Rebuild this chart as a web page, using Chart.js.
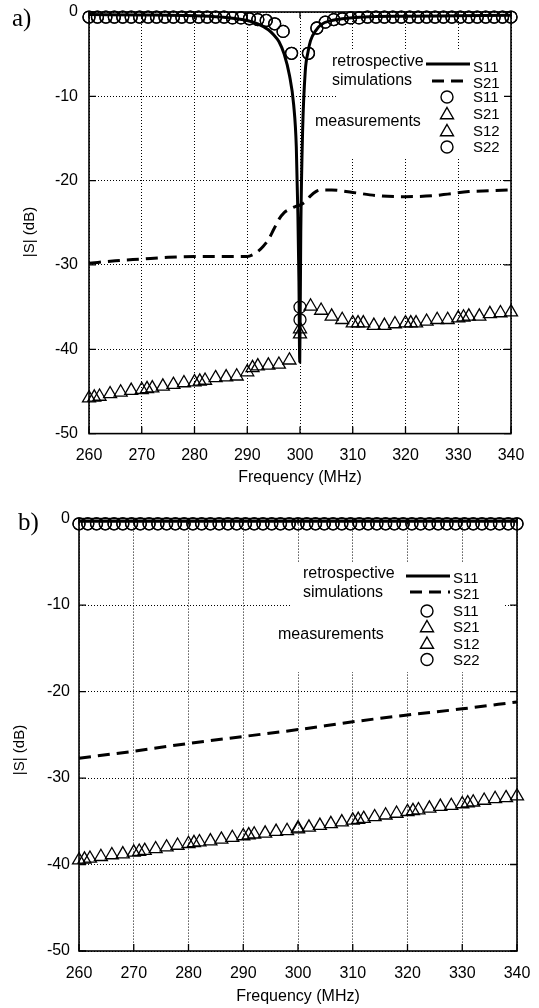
<!DOCTYPE html>
<html><head><meta charset="utf-8">
<script src="https://cdn.jsdelivr.net/npm/chart.js@4.4.1/dist/chart.umd.min.js"></script>
<style>
html,body{margin:0;padding:0;background:#fff;width:539px;height:1008px;overflow:hidden;}
.wrap{position:absolute;left:0;width:539px;}
#w1{top:0;height:500px;} #w2{top:500px;height:508px;}
canvas{display:block;}
</style></head><body>
<div class="wrap" id="w1"><canvas id="c1" width="539" height="500"></canvas></div>
<div class="wrap" id="w2"><canvas id="c2" width="539" height="508"></canvas></div>
<script>
// ---------- shared tick labels ----------
const xTickValues = [260, 270, 280, 290, 300, 310, 320, 330, 340];
const yTickValues = [0, -10, -20, -30, -40, -50];

// ---------- measurement frequency grids ----------
const measFreqCircles = [260, 261.6, 263.2, 264.8, 266.4, 268, 269.6, 271.2, 272.8, 274.4, 276, 277.6, 279.2, 280.8, 282.4, 284, 285.6, 287.2, 288.8, 290.4, 292, 293.6, 295.2, 296.8, 298.4, 300, 301.6, 303.2, 304.8, 306.4, 308, 309.6, 311.2, 312.8, 314.4, 316, 317.6, 319.2, 320.8, 322.4, 324, 325.6, 327.2, 328.8, 330.4, 332, 333.6, 335.2, 336.8, 338.4, 340];
const measFreqS21 = [260, 262, 264, 266, 268, 270, 272, 274, 276, 278, 280, 282, 284, 286, 288, 290, 292, 294, 296, 298, 300, 302, 304, 306, 308, 310, 312, 314, 316, 318, 320, 322, 324, 326, 328, 330, 332, 334, 336, 338, 340];
const measFreqS12 = [261, 271, 281, 291, 300, 311, 321, 331];

// ---------- chart a) ----------
const simFreqS11a = [260, 270, 280, 285, 288, 290, 292, 294, 295, 296, 297, 298, 298.8, 299.3, 299.6, 299.8, 299.95, 300.15, 300.5, 301, 301.5, 302, 303, 304, 306, 308, 312, 320, 330, 340];
const simS11a = [-0.3, -0.35, -0.45, -0.6, -0.8, -1.0, -1.4, -2.1, -2.7, -3.5, -5.0, -7.5, -11, -16, -24, -32, -41.5, -26, -14, -7, -4.8, -3.4, -2.2, -1.5, -1.0, -0.8, -0.6, -0.5, -0.45, -0.4];
const simFreqS21a = [260, 265, 270, 275, 280, 285, 290, 291, 292, 293, 294, 295, 296, 297, 298, 299, 300, 301, 302, 303, 304, 306, 310, 315, 320, 325, 328, 332, 336, 340];
const simS21a = [-29.8, -29.5, -29.3, -29.1, -29.0, -29.0, -29.0, -28.8, -28.4, -27.8, -27.0, -25.8, -24.6, -23.8, -23.4, -23.1, -22.9, -22.5, -21.8, -21.3, -21.1, -21.1, -21.4, -21.8, -21.9, -21.8, -21.6, -21.3, -21.2, -21.1];
const measS11a = [-0.6, -0.6, -0.6, -0.6, -0.6, -0.6, -0.6, -0.6, -0.6, -0.6, -0.6, -0.6, -0.6, -0.6, -0.6, -0.6, -0.6, -0.7, -0.7, -0.8, -0.9, -1.0, -1.4, -2.3, -4.9, -35.0, -4.9, -1.9, -1.2, -0.9, -0.8, -0.7, -0.7, -0.6, -0.6, -0.6, -0.6, -0.6, -0.6, -0.6, -0.6, -0.6, -0.6, -0.6, -0.6, -0.6, -0.6, -0.6, -0.6, -0.6, -0.6];
const measS22a = [-0.6, -0.6, -0.6, -0.6, -0.6, -0.6, -0.6, -0.6, -0.6, -0.6, -0.6, -0.6, -0.6, -0.6, -0.6, -0.6, -0.6, -0.7, -0.7, -0.8, -0.9, -1.0, -1.4, -2.3, -4.9, -36.5, -4.9, -1.9, -1.2, -0.9, -0.8, -0.7, -0.7, -0.6, -0.6, -0.6, -0.6, -0.6, -0.6, -0.6, -0.6, -0.6, -0.6, -0.6, -0.6, -0.6, -0.6, -0.6, -0.6, -0.6, -0.6];
const measS21a = [-45.8, -45.6, -45.3, -45.1, -44.9, -44.8, -44.6, -44.4, -44.2, -44.0, -43.9, -43.7, -43.4, -43.3, -43.2, -42.7, -42.0, -41.9, -41.8, -41.3, -37.6, -34.9, -35.4, -36.1, -36.5, -36.9, -36.9, -37.2, -37.2, -37.0, -36.9, -36.9, -36.7, -36.5, -36.5, -36.3, -36.1, -36.1, -35.8, -35.7, -35.6];
const measS12a = [-45.7, -44.7, -43.8, -42.2, -38.2, -36.9, -36.9, -36.2];

// ---------- chart b) ----------
const simFreqS11b = [260, 280, 300, 320, 340];
const simS11b = [-0.3, -0.3, -0.3, -0.3, -0.3];
const simFreqS21b = [260, 270, 280, 290, 300, 310, 320, 330, 340];
const simS21b = [-27.7, -26.9, -26.0, -25.2, -24.4, -23.5, -22.7, -22.0, -21.2];
const measS11b = [-0.6, -0.6, -0.6, -0.6, -0.6, -0.6, -0.6, -0.6, -0.6, -0.6, -0.6, -0.6, -0.6, -0.6, -0.6, -0.6, -0.6, -0.6, -0.6, -0.6, -0.6, -0.6, -0.6, -0.6, -0.6, -0.6, -0.6, -0.6, -0.6, -0.6, -0.6, -0.6, -0.6, -0.6, -0.6, -0.6, -0.6, -0.6, -0.6, -0.6, -0.6, -0.6, -0.6, -0.6, -0.6, -0.6, -0.6, -0.6, -0.6, -0.6, -0.6];
const measS22b = [-0.6, -0.6, -0.6, -0.6, -0.6, -0.6, -0.6, -0.6, -0.6, -0.6, -0.6, -0.6, -0.6, -0.6, -0.6, -0.6, -0.6, -0.6, -0.6, -0.6, -0.6, -0.6, -0.6, -0.6, -0.6, -0.6, -0.6, -0.6, -0.6, -0.6, -0.6, -0.6, -0.6, -0.6, -0.6, -0.6, -0.6, -0.6, -0.6, -0.6, -0.6, -0.6, -0.6, -0.6, -0.6, -0.6, -0.6, -0.6, -0.6, -0.6, -0.6];
const measS21b = [-39.5, -39.3, -39.1, -38.9, -38.8, -38.6, -38.4, -38.2, -38.0, -37.8, -37.6, -37.4, -37.3, -37.1, -36.9, -36.7, -36.5, -36.4, -36.2, -36.1, -35.9, -35.7, -35.5, -35.3, -35.1, -34.9, -34.7, -34.5, -34.3, -34.1, -33.9, -33.7, -33.5, -33.3, -33.2, -33.0, -32.8, -32.6, -32.4, -32.3, -32.1];
const measS12b = [-39.4, -38.5, -37.5, -36.6, -35.8, -34.8, -33.8, -32.9];

// ---------- text ----------
const xTitle = 'Frequency (MHz)';
const yTitle = '|S| (dB)';
const legendSimLabels = ['S11', 'S21'];
const legendMeasLabels = ['S11', 'S21', 'S12', 'S22'];

const SANS = '"Liberation Sans", Arial, sans-serif';
const SERIF = '"Liberation Serif", "Times New Roman", serif';

function pts(xs, ys) { return xs.map((x, i) => ({x: x, y: ys[i]})); }

function drawTri(ctx, x, y, r) {
  ctx.beginPath();
  ctx.moveTo(x, y - r);
  ctx.lineTo(x + r * 0.866, y + r * 0.5);
  ctx.lineTo(x - r * 0.866, y + r * 0.5);
  ctx.closePath();
  ctx.stroke();
}
function drawCirc(ctx, x, y, r) {
  ctx.beginPath(); ctx.arc(x, y, r, 0, Math.PI * 2); ctx.stroke();
}

function makeChart(id, g, d) {
  const deco = {
    id: 'deco' + id,
    beforeDatasetsDraw(chart) {
      const ctx = chart.ctx, a = chart.chartArea;
      ctx.save();
      ctx.fillStyle = '#fff';
      g.boxes.forEach(b => ctx.fillRect(b[0], b[1], b[2] - b[0], b[3] - b[1]));
      ctx.strokeStyle = '#000'; ctx.setLineDash([]);
      ctx.lineWidth = 1.6;
      ctx.strokeRect(a.left, a.top, a.right - a.left, a.bottom - a.top);
      const xs = chart.scales.x, ys = chart.scales.y;
      ctx.lineWidth = 1.3;
      ctx.beginPath();
      xs.ticks.forEach(t => { const p = xs.getPixelForValue(t.value);
        ctx.moveTo(p, a.bottom); ctx.lineTo(p, a.bottom - 7);
        ctx.moveTo(p, a.top); ctx.lineTo(p, a.top + 6); });
      ys.ticks.forEach(t => { const p = ys.getPixelForValue(t.value);
        ctx.moveTo(a.left, p); ctx.lineTo(a.left + 7, p);
        ctx.moveTo(a.right, p); ctx.lineTo(a.right - 7, p); });
      ctx.stroke();
      ctx.restore();
    },
    afterDatasetsDraw(chart) {
      const ctx = chart.ctx;
      ctx.save();
      ctx.fillStyle = '#000'; ctx.strokeStyle = '#000';
      // panel label
      ctx.font = '25px ' + SERIF; ctx.textAlign = 'left'; ctx.textBaseline = 'alphabetic';
      ctx.fillText(g.panel, g.panelX, g.panelY);
      // axis titles
      ctx.font = '16px ' + SANS; ctx.textAlign = 'center'; ctx.textBaseline = 'middle';
      ctx.fillText(xTitle, g.xTitleX, g.xTitleY);
      ctx.save(); ctx.translate(g.yTitleX, g.yTitleY); ctx.rotate(-Math.PI / 2);
      ctx.font = '15px ' + SANS; ctx.fillText(yTitle, 0, 0); ctx.restore();
      // legend
      const L = g.leg;
      ctx.textAlign = 'left'; ctx.textBaseline = 'middle';
      ctx.font = '16px ' + SANS;
      ctx.fillText('retrospective', L.tx, L.t1);
      ctx.fillText('simulations', L.tx, L.t2);
      ctx.fillText('measurements', L.mx, L.mt);
      ctx.lineWidth = 3; ctx.setLineDash([]);
      ctx.beginPath(); ctx.moveTo(L.l0, L.ly1); ctx.lineTo(L.l1, L.ly1); ctx.stroke();
      ctx.setLineDash([12, 7]);
      ctx.beginPath(); ctx.moveTo(L.d0, L.ly2); ctx.lineTo(L.l1, L.ly2); ctx.stroke();
      ctx.setLineDash([]);
      ctx.lineWidth = 1.4;
      drawCirc(ctx, L.sx, L.rows[2], 6);
      drawTri(ctx, L.sx, L.rows[3] + 1, 7.5);
      drawTri(ctx, L.sx, L.rows[4] + 1, 7.5);
      drawCirc(ctx, L.sx, L.rows[5], 6);
      ctx.font = '15px ' + SANS;
      const labs = legendSimLabels.concat(legendMeasLabels);
      labs.forEach((s, i) => ctx.fillText(s, L.stx, L.rows[i] + (i < 2 ? 3 : 1)));
      ctx.restore();
    }
  };

  const mk = (style) => ({
    showLine: false, pointStyle: style, pointRadius: style === 'circle' ? 6 : 7.5,
    pointBorderColor: '#000', pointBackgroundColor: 'rgba(0,0,0,0)', pointBorderWidth: 1.3,
    pointHoverRadius: 0, clip: false
  });

  return new Chart(document.getElementById(id), {
    type: 'scatter',
    data: { datasets: [
      Object.assign({label: 'meas S11', data: pts(measFreqCircles, d.mS11)}, mk('circle')),
      Object.assign({label: 'meas S22', data: pts(measFreqCircles, d.mS22)}, mk('circle')),
      Object.assign({label: 'meas S21', data: pts(measFreqS21, d.mS21)}, mk('triangle')),
      Object.assign({label: 'meas S12', data: pts(measFreqS12, d.mS12)}, mk('triangle')),
      {label: 'sim S11', data: pts(d.fS11, d.sS11), showLine: true, borderColor: '#000', borderWidth: 3,
        pointRadius: 0, cubicInterpolationMode: 'monotone', clip: false},
      {label: 'sim S21', data: pts(d.fS21, d.sS21), showLine: true, borderColor: '#000', borderWidth: 3,
        borderDash: [12, 7], pointRadius: 0, cubicInterpolationMode: 'monotone', clip: false}
    ]},
    options: {
      responsive: false, animation: false, devicePixelRatio: 1,
      layout: { padding: { left: 0, right: g.padRight, top: g.padTop, bottom: 0 } },
      plugins: { legend: { display: false }, tooltip: { enabled: false } },
      events: [],
      scales: {
        x: {
          type: 'linear', min: 260, max: 340,
          afterBuildTicks: (s) => { s.ticks = xTickValues.map(v => ({value: v})); },
          ticks: { color: '#000', font: {family: SANS, size: 16}, padding: g.xPad, maxRotation: 0, autoSkip: false,
            callback: (v) => String(v) },
          grid: { color: '#000', lineWidth: 1, drawTicks: false },
          border: { display: false, dash: [1, 2] },
          afterFit: (s) => { s.height = g.xH; s.paddingLeft = 0; s.paddingRight = 0; }
        },
        y: {
          type: 'linear', min: -50, max: 0,
          afterBuildTicks: (s) => { s.ticks = yTickValues.map(v => ({value: v})); },
          ticks: { color: '#000', font: {family: SANS, size: 16}, padding: g.yPad,
            callback: (v) => String(v) },
          grid: { color: '#000', lineWidth: 1, drawTicks: false },
          border: { display: false, dash: [1, 2] },
          afterFit: (s) => { s.width = g.yW; s.paddingTop = 0; s.paddingBottom = 0; }
        }
      }
    },
    plugins: [deco]
  });
}

makeChart('c1', {
  padRight: 28, padTop: 12, xH: 500 - 433.6, yW: 89, xPad: 12, yPad: 11,
  panel: 'a)', panelX: 12, panelY: 26,
  xTitleX: 300, xTitleY: 478, yTitleX: 30, yTitleY: 232,
  boxes: [[337, 50, 505, 157], [311, 111, 430, 135]],
  leg: { tx: 332, t1: 62, t2: 81, mx: 315, mt: 122, l0: 426, d0: 432, l1: 470, ly1: 64, ly2: 81,
    sx: 447, stx: 473, rows: [65, 81, 97, 114, 131, 147] }
}, { fS11: simFreqS11a, sS11: simS11a, fS21: simFreqS21a, sS21: simS21a,
     mS11: measS11a, mS22: measS22a, mS21: measS21a, mS12: measS12a });

makeChart('c2', {
  padRight: 22, padTop: 18.6, xH: 508 - 451, yW: 79, xPad: 13, yPad: 9,
  panel: 'b)', panelX: 18, panelY: 30,
  xTitleX: 298, xTitleY: 497, yTitleX: 20, yTitleY: 250,
  boxes: [[292, 62, 505, 172], [274, 124, 392, 146]],
  leg: { tx: 303, t1: 74, t2: 93, mx: 278, mt: 135, l0: 406, d0: 410, l1: 450, ly1: 76, ly2: 92,
    sx: 427, stx: 453, rows: [76, 92, 111, 127, 143.5, 159.5] }
}, { fS11: simFreqS11b, sS11: simS11b, fS21: simFreqS21b, sS21: simS21b,
     mS11: measS11b, mS22: measS22b, mS21: measS21b, mS12: measS12b });
</script>
</body></html>
